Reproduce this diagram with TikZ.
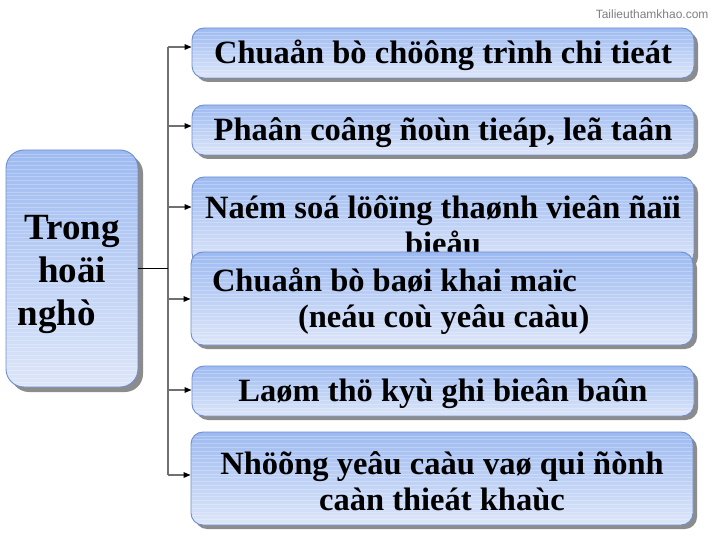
\documentclass[tikz,border=0pt]{standalone}
\usepackage{fontspec}
\setmainfont{Liberation Serif}
\newfontfamily\wmfont{Liberation Sans}
\usetikzlibrary{shadows,arrows.meta,calc}
\definecolor{boxtop}{HTML}{9DBAF1}
\definecolor{boxbot}{HTML}{DDE6F9}
\definecolor{boxline}{HTML}{6E8ED0}
\definecolor{shadowgray}{HTML}{8C8C8C}
\definecolor{linegray}{HTML}{707070}
\newcommand\mystrut[1]{\rule{0pt}{#1}}
\begin{document}
\begin{tikzpicture}[x=1pt,y=-1pt,
  stripes/.style={path picture={\foreach \k in {1,...,62}{\draw[white,opacity=0.25,line width=0.5pt]
      ($(path picture bounding box.north west)+(0,\k*3.8)$) -- ($(path picture bounding box.north east)+(0,\k*3.8)$);}}},
  panel/.style={draw=boxline, line width=0.9pt, rounded corners=12pt,
      top color=boxtop, bottom color=boxbot, stripes,
      drop shadow={shadow xshift=4pt,shadow yshift=-4pt,fill=shadowgray,opacity=1},
      inner sep=0pt, font=\bfseries\fontsize{32.5}{36}\selectfont},
  wide/.style={panel, minimum width=502pt},
  trunk/.style={draw=linegray, line width=1.3pt},
  branch/.style={draw=linegray, line width=1.3pt, -{Triangle[length=7pt,width=5.5pt,color=black]}},
  feed/.style={draw=black, line width=0.8pt}]
\path[use as bounding box, fill=white] (0,0) rectangle (720,540);

\node[anchor=east, text=gray, font=\wmfont\fontsize{12}{14}\selectfont] (wm) at (712,14) {Tailieuthamkhao.com};

% left box
\node[panel, rounded corners=18pt, minimum width=132pt, minimum height=237pt, align=center,
      font=\bfseries\fontsize{37}{43}\selectfont,
      drop shadow={shadow xshift=5pt,shadow yshift=-5pt,fill=shadowgray,opacity=1}]
  (L) at (72,268.5) {\mystrut{36pt}Trong\\hoäi\\nghò\hspace*{30pt}};

% right boxes
\node[wide, minimum height=50pt] (b1) at (443,53) {\mystrut{28pt}Chuaån bò chöông trình chi tieát};
\node[wide, minimum height=50pt] (b2) at (443,130) {\mystrut{28pt}Phaân coâng ñoùn tieáp, leã taân};
\node[wide, minimum height=88pt, align=center] (b3) at (443,221) {\mystrut{31pt}Naém soá löôïng thaønh vieân ñaïi\\bieåu};
\node[wide, minimum height=93pt, align=center] (b4) at (442,298.5)
  {\mystrut{29pt}\makebox[460pt][l]{Chuaån bò baøi khai maïc}\\\makebox[460pt][l]{\hspace*{86pt}(neáu coù yeâu caàu)}};
\node[wide, minimum height=50pt] (b5) at (443,391) {\mystrut{28pt}Laøm thö kyù ghi bieân baûn};
\node[wide, minimum height=93pt, align=center] (b6) at (442,478.5) {\mystrut{29pt}Nhöõng yeâu caàu vaø qui ñònh\\caàn thieát khaùc};

% connectors
\coordinate (j1) at (168,47);
\coordinate (j2) at (168,126);
\coordinate (j3) at (168,207);
\coordinate (j4) at (168,299);
\coordinate (j5) at (168,390);
\coordinate (j6) at (168,475);
\draw[trunk] (j1) -- (j6);
\draw[feed] (L.east) -- (L.east -| j1);
\draw[branch] (j1) -- (j1 -| b1.west);
\draw[branch] (j2) -- (j2 -| b2.west);
\draw[branch] (j3) -- (j3 -| b3.west);
\draw[branch] (j4) -- (j4 -| b4.west);
\draw[branch] (j5) -- (j5 -| b5.west);
\draw[branch] (j6) -- (j6 -| b6.west);
\end{tikzpicture}
\end{document}
